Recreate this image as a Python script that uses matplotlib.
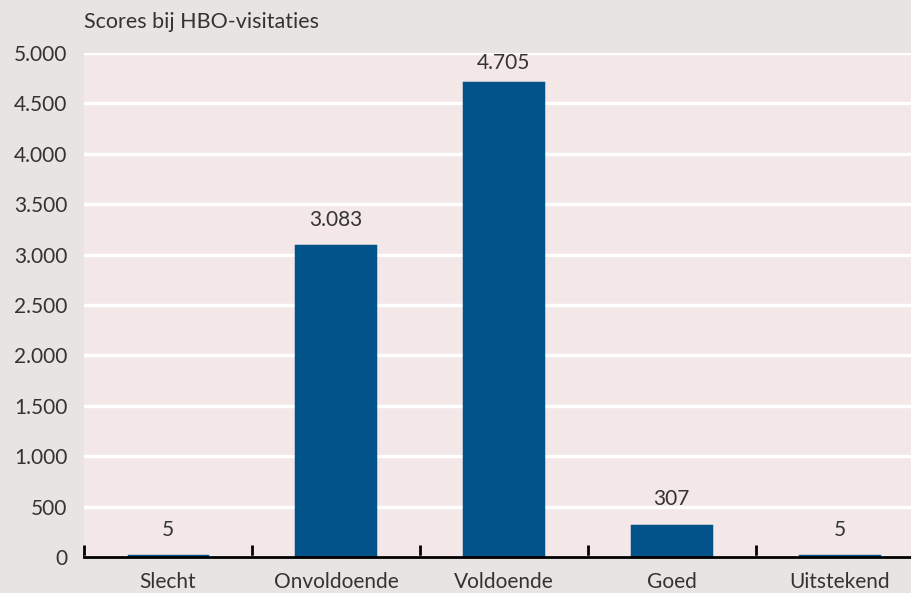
import numpy as np
import matplotlib.pyplot as plt

categorieen = ['Slecht', 'Onvoldoende', 'Voldoende', 'Goed', 'Uitstekend']
scores = [5, 3083, 4705, 307, 5]
yticks = [0, 500, 1000, 1500, 2000, 2500, 3000, 3500, 4000, 4500, 5000]


def fmt(v):
    return f'{v:,}'.replace(',', '.')


plt.rcParams['font.family'] = ['Lato', 'DejaVu Sans']
tekst = '#333333'

fig = plt.figure(figsize=(9.12, 5.93), dpi=100, facecolor='#e8e4e1')
ax = fig.add_axes([84 / 912, 1 - 557 / 593, 1 - 84 / 912, (557 - 53) / 593])
ax.set_facecolor('#f4e7e8')

x = np.arange(len(categorieen))
ax.bar(x, scores, width=0.47, color='#01538a', edgecolor='#01538a', linewidth=2.5, zorder=3)

# label boven de balk, dichter erbij als er weinig ruimte tot de bovenrand is
for xi, v in zip(x, scores):
    off = 7 if v > 4500 else 12
    ax.annotate(fmt(v), (xi, v), xytext=(0, off), textcoords='offset points',
                ha='center', va='bottom', fontsize=15, color=tekst)

ax.set_xlim(-0.5, 4.43)
ax.set_ylim(0, 5000)
ax.set_yticks(yticks)
ax.set_yticklabels([fmt(t) for t in yticks], fontsize=15, color=tekst)
ax.yaxis.grid(True, color='white', linewidth=2.5, zorder=0)
ax.set_axisbelow(True)
ax.tick_params(axis='y', length=0, pad=12)

ax.set_xticks(np.arange(-0.5, 4.0, 1.0))
ax.set_xticklabels([])
ax.set_xticks(x, minor=True)
ax.set_xticklabels(categorieen, minor=True, fontsize=15, color=tekst)
ax.tick_params(axis='x', which='major', direction='in', length=9, width=2, color='black')
ax.tick_params(axis='x', which='minor', length=0, pad=11)

for s in ['top', 'right', 'left']:
    ax.spines[s].set_visible(False)
ax.spines['bottom'].set_linewidth(2)
ax.spines['bottom'].set_zorder(4)

fig.text(84 / 912, 1 - 22 / 593, 'Scores bij HBO-visitaties', fontsize=15.5,
         color=tekst, ha='left', va='center')

fig.savefig('out.png', dpi=100, facecolor=fig.get_facecolor())
